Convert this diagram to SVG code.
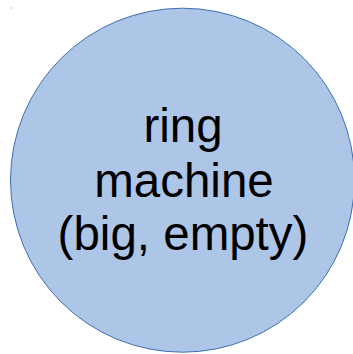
<svg xmlns="http://www.w3.org/2000/svg" width="353" height="354" viewBox="0 0 353 354">
<style>
.node{fill:#adc5e7;stroke:#3d6fb0;stroke-width:1}
.lbl{font-family:"Liberation Sans",Arial,sans-serif;font-size:47.5px;fill:#000;text-anchor:middle}
</style>
<rect width="353" height="354" fill="#fff"/>
<rect x="10.5" y="7.5" width="1" height="1" fill="#6f8fc0"/>
<g id="connectors"></g>
<g id="ring-machine">
<circle class="node" cx="182.5" cy="180.2" r="172"/>
<text class="lbl" x="183" y="142">ring</text>
<text class="lbl" x="184" y="196.5">machine</text>
<text class="lbl" x="183" y="250">(big, empty)</text>
</g>
</svg>
